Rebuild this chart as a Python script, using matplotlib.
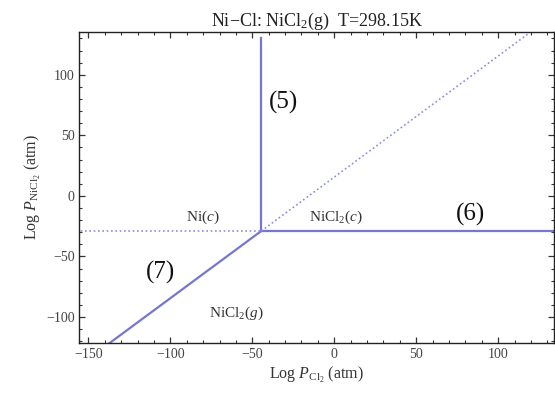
import matplotlib
matplotlib.use("Agg")
import matplotlib.pyplot as plt
from matplotlib.ticker import MultipleLocator

plt.rcParams['font.family'] = ['Liberation Serif', 'DejaVu Serif']
plt.rcParams['mathtext.fontset'] = 'custom'
plt.rcParams['mathtext.rm'] = 'Liberation Serif'
plt.rcParams['mathtext.it'] = 'Liberation Serif:italic'

# Data (log P values)
line5_x = [-44.5, -44.5]
line5_y = [-29.0, 130.5]
line6_x = [-44.5, 140.0]
line6_y = [-29.0, -29.0]
line7_x = [-160.0, -44.5]
line7_y = [-144.5, -29.0]
dot_h_x = [-160.0, -44.5]
dot_h_y = [-29.0, -29.0]
dot_d_x = [-44.5, 140.0]
dot_d_y = [-29.0, 155.5]

xticks = [-150, -100, -50, 0, 50, 100]
yticks = [-100, -50, 0, 50, 100]

fig = plt.figure(figsize=(5.55, 3.97), dpi=100)
ax = fig.add_axes([0.143, 0.136, 0.855, 0.784])

solid = '#7676cf'
dotc = '#8c8ce2'
ax.plot(line5_x, line5_y, color=solid, lw=1.6)
ax.plot(line6_x, line6_y, color=solid, lw=1.6)
ax.plot(line7_x, line7_y, color=solid, lw=1.6)
ax.plot(dot_h_x, dot_h_y, color=dotc, lw=1.2, ls=(0, (1.0, 1.6)))
ax.plot(dot_d_x, dot_d_y, color=dotc, lw=1.2, ls=(0, (1.0, 1.6)))

ax.set_xlim(-155.5, 134)
ax.set_ylim(-121.5, 135.5)
ax.set_xticks(xticks)
ax.set_yticks(yticks)
ax.xaxis.set_minor_locator(MultipleLocator(10))
ax.yaxis.set_minor_locator(MultipleLocator(10))
ax.tick_params(which='both', direction='in', top=True, right=True,
               labelsize=10, colors='#333333', labelcolor='#444444')
ax.tick_params(which='major', length=4.5, width=0.9)
ax.tick_params(which='minor', length=2.5, width=0.8)
for s in ax.spines.values():
    s.set_color('#222222')
    s.set_linewidth(1.0)

ax.set_xlabel(r'Log $P_{\mathrm{Cl}_2}$ (atm)', fontsize=11.5, color='#333333', labelpad=3)
ax.set_ylabel(r'Log $P_{\mathrm{NiCl}_2}$ (atm)', fontsize=11.5, color='#333333', labelpad=2)
ax.set_title(r'Ni$-$Cl: NiCl$_2$(g)  T=298.15K', fontsize=13, color='#222222', pad=3)

tc = '#333333'
ax.text(-31, 77, '(5)', fontsize=18, ha='center', va='center', color='#111111')
ax.text(83, -15, '(6)', fontsize=18, ha='center', va='center', color='#111111')
ax.text(-106, -63, '(7)', fontsize=18, ha='center', va='center', color='#111111')
ax.text(-80, -18, r'Ni($\mathit{c}$)', fontsize=11, ha='center', va='center', color=tc)
ax.text(1, -18, r'NiCl$_2$($\mathit{c}$)', fontsize=11, ha='center', va='center', color=tc)
ax.text(-60, -97, r'NiCl$_2$($\mathit{g}$)', fontsize=11, ha='center', va='center', color=tc)

fig.savefig('out.png', dpi=100)
